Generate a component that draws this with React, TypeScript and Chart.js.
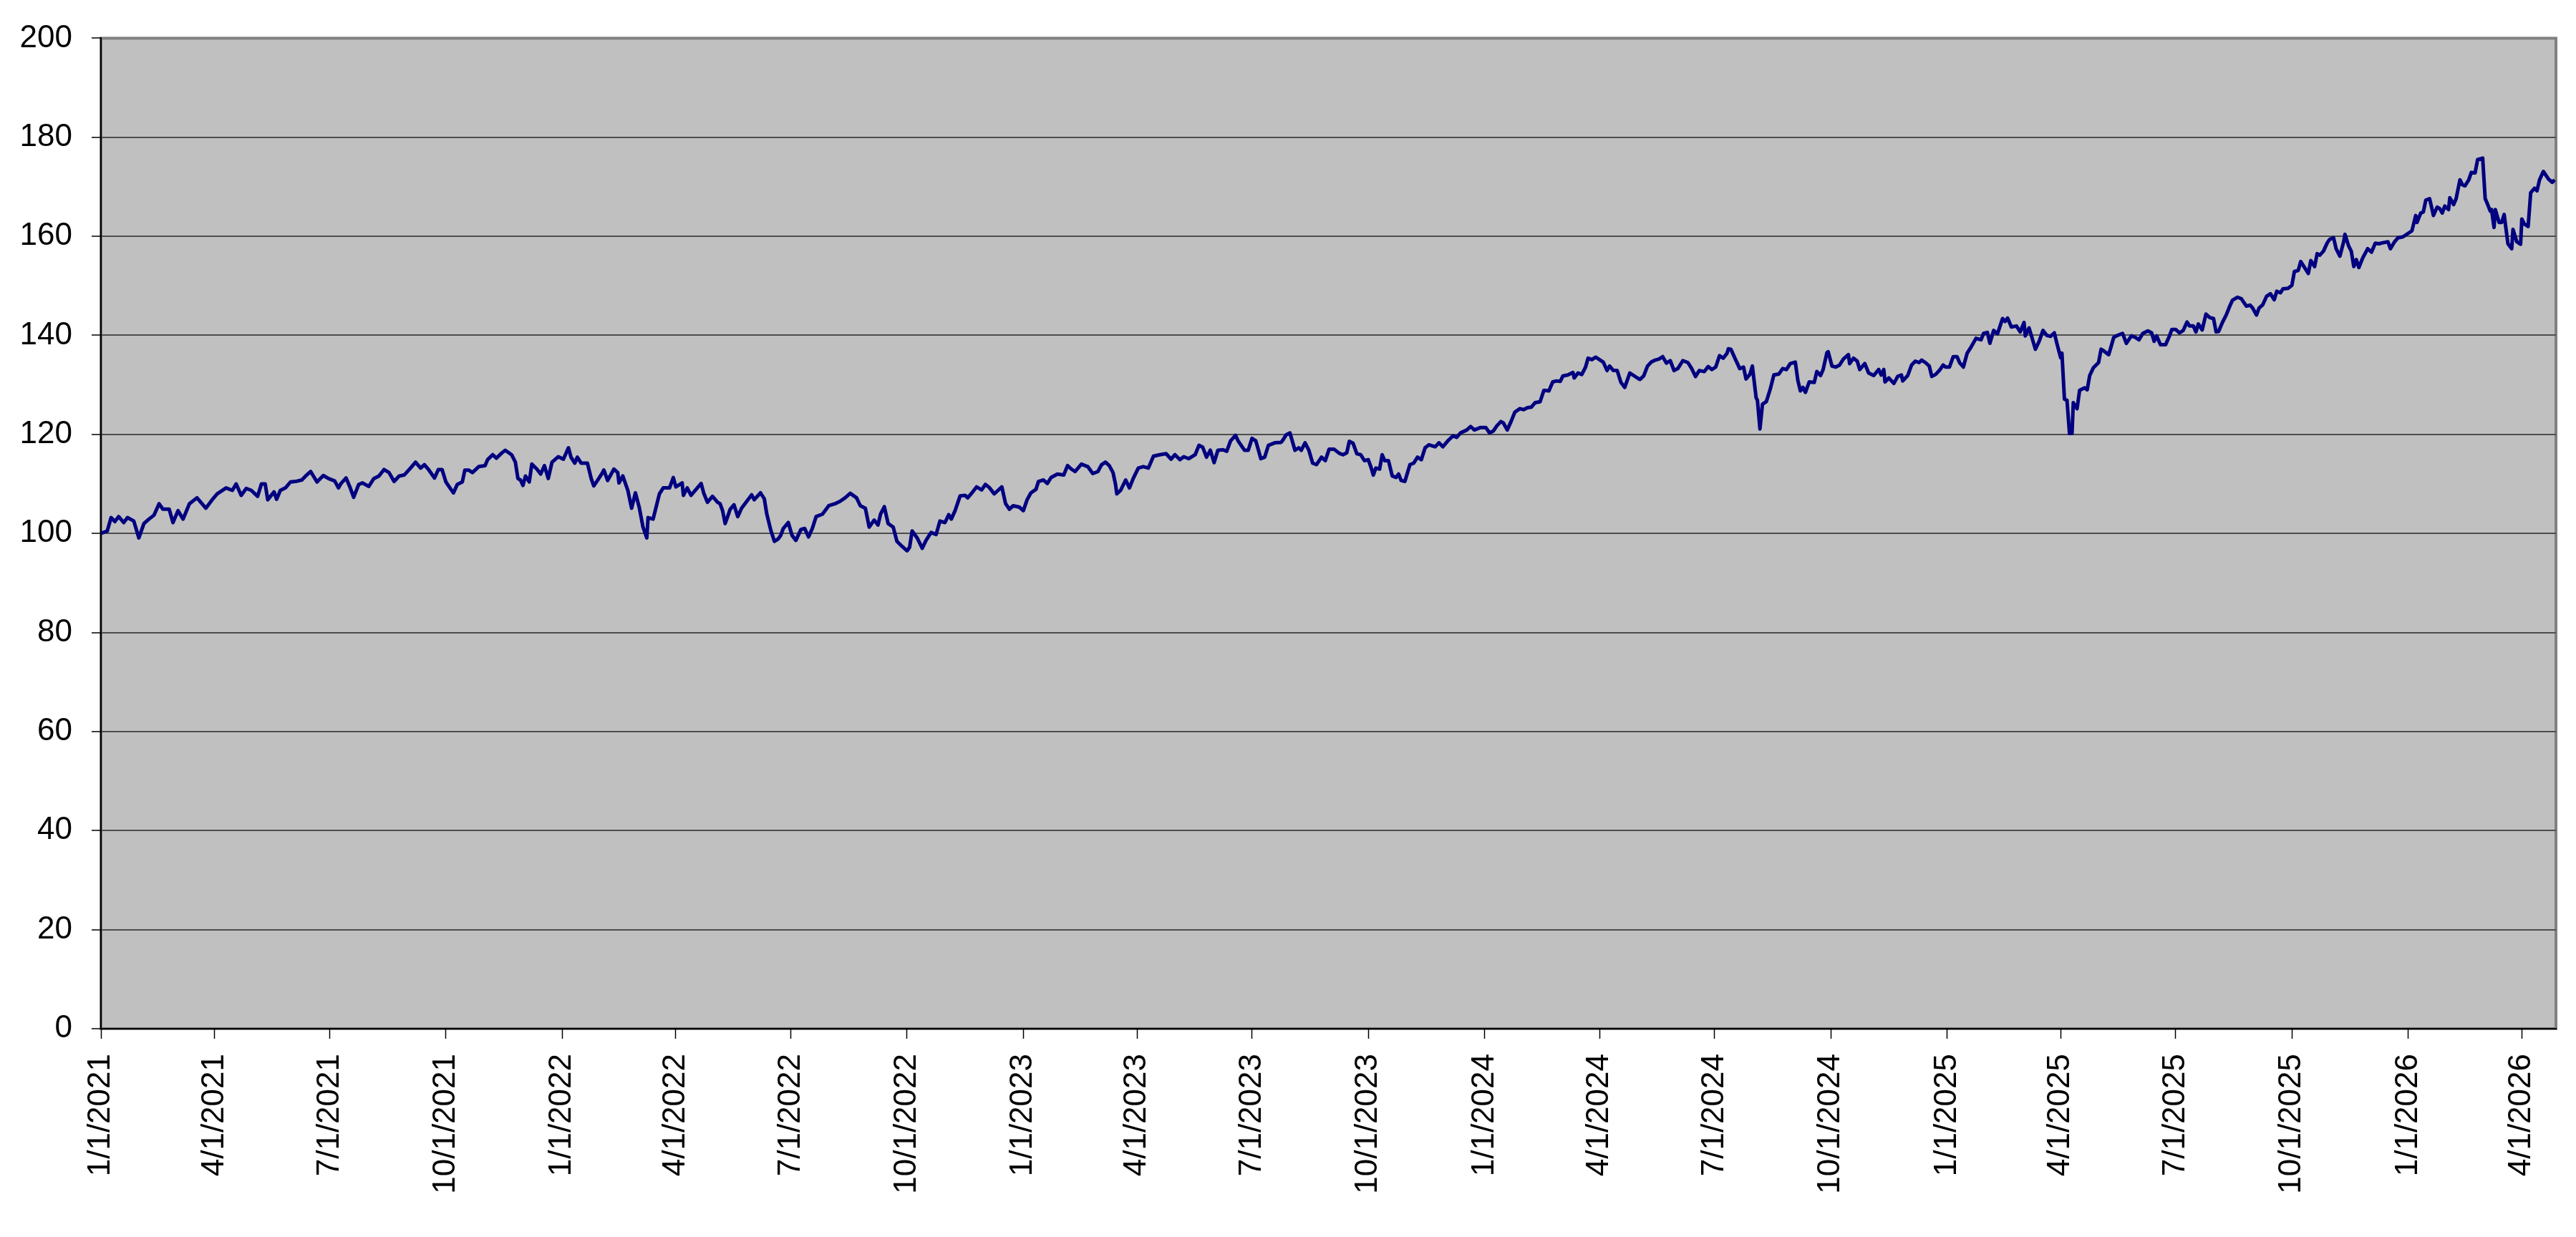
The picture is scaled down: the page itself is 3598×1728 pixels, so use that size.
import React, { useEffect, useRef } from 'react';
import { Chart, registerables } from 'chart.js';

Chart.register(...registerables);

// eixo x: dias desde a data inicial
const startDate = '1/1/2021';
const endDate = '4/28/2026';

const quarterLabels = [
  '1/1/2021', '4/1/2021', '7/1/2021', '10/1/2021',
  '1/1/2022', '4/1/2022', '7/1/2022', '10/1/2022',
  '1/1/2023', '4/1/2023', '7/1/2023', '10/1/2023',
  '1/1/2024', '4/1/2024', '7/1/2024', '10/1/2024',
  '1/1/2025', '4/1/2025', '7/1/2025', '10/1/2025',
  '1/1/2026', '4/1/2026',
];

// [dias desde 1/1/2021, índice]
const index2021: [number, number][] = [
  [0, 100.0], [5, 100.5], [8, 103.2], [11, 102.4], [14, 103.4], [18, 102.2], [21, 103.2], [26, 102.5],
  [30, 99.1], [34, 102.0], [38, 102.9], [42, 103.7], [46, 106.0], [49, 104.9], [54, 104.9], [57, 102.2],
  [61, 104.6], [65, 102.9], [70, 106.0], [76, 107.2], [83, 105.1], [88, 106.8], [92, 108.0], [99, 109.2],
  [104, 108.7], [107, 110.0], [111, 107.7], [115, 109.1], [119, 108.7], [124, 107.5], [127, 110.0], [130, 110.0],
  [132, 106.8], [137, 108.4], [139, 106.9], [142, 108.7], [146, 109.2], [150, 110.4], [154, 110.5], [159, 110.8],
  [162, 111.6], [166, 112.5], [171, 110.4], [176, 111.7], [180, 111.1], [185, 110.6], [188, 109.2], [190, 110.1],
  [194, 111.2], [197, 109.4], [200, 107.3], [204, 109.9], [207, 110.2], [212, 109.5], [216, 111.1], [220, 111.6],
  [224, 112.9], [228, 112.3], [232, 110.5], [236, 111.6], [240, 111.8], [245, 113.2], [249, 114.4], [253, 113.2],
  [256, 113.9], [259, 113.0], [264, 111.2], [267, 112.9], [270, 112.9], [273, 110.4], [277, 108.9], [279, 108.2],
  [282, 109.9], [286, 110.4], [288, 112.8], [291, 112.8], [294, 112.3], [299, 113.5], [304, 113.7], [306, 114.9],
  [310, 115.9], [313, 115.2], [317, 116.2], [320, 116.8], [325, 115.9], [328, 114.4], [330, 111.1], [332, 110.8],
  [334, 109.7], [336, 111.6], [339, 110.4], [341, 114.0], [345, 113.0], [348, 112.0], [351, 113.7], [354, 111.1],
  [357, 114.4], [362, 115.5],
];

const index2022: [number, number][] = [
  [366, 115.0], [370, 117.3], [372, 115.4], [375, 114.2], [377, 115.4], [380, 114.2], [385, 114.2], [388, 111.1],
  [390, 109.6], [393, 110.7], [397, 112.3], [398, 112.8], [401, 110.7], [406, 113.0], [409, 112.3], [410, 110.2],
  [413, 111.6], [417, 108.7], [420, 105.1], [423, 108.2], [426, 105.3], [429, 101.3], [432, 99.1], [433, 103.2],
  [437, 102.9], [442, 108.0], [445, 109.2], [450, 109.2], [453, 111.3], [455, 109.4], [460, 110.2], [461, 107.7],
  [464, 109.2], [467, 107.7], [471, 108.9], [475, 110.1], [477, 108.2], [480, 106.3], [484, 107.5], [488, 106.3],
  [490, 106.0], [492, 104.6], [494, 102.0], [496, 103.4], [498, 104.9], [501, 105.8], [504, 103.4], [507, 105.1],
  [512, 106.8], [515, 107.8], [517, 106.8], [522, 108.2], [525, 107.0], [527, 103.9], [530, 100.8], [533, 98.4],
  [536, 98.9], [538, 99.6], [540, 101.0], [544, 102.2], [547, 99.6], [550, 98.6], [554, 100.8], [557, 101.0],
  [560, 99.3], [563, 101.0], [566, 103.4], [571, 103.9], [576, 105.6], [581, 106.0], [585, 106.5], [589, 107.2],
  [593, 108.1], [598, 107.2], [601, 105.6], [605, 105.1], [608, 101.3], [612, 102.7], [615, 101.7], [617, 103.9],
  [620, 105.4], [623, 102.0], [627, 101.3], [630, 98.4], [634, 97.4], [638, 96.5], [640, 97.2], [642, 100.5],
  [646, 99.1], [650, 97.0], [653, 98.6], [657, 100.2], [661, 99.8], [664, 102.5], [668, 102.2], [671, 103.8],
  [673, 102.9], [676, 104.6], [680, 107.6], [684, 107.7], [686, 107.2], [690, 108.4], [693, 109.4], [697, 108.8],
  [700, 109.9], [703, 109.3], [707, 108.0], [710, 108.7], [713, 109.4], [716, 106.0], [719, 104.9], [722, 105.6],
  [727, 105.3],
];

const index2023: [number, number][] = [
  [730, 104.6], [733, 106.8], [736, 108.2], [740, 108.9], [742, 110.5], [746, 110.8], [749, 110.1], [752, 111.3],
  [757, 112.0], [762, 111.8], [765, 113.7], [768, 113.0], [771, 112.5], [776, 114.0], [781, 113.5], [785, 112.1],
  [789, 112.5], [792, 113.9], [795, 114.4], [798, 113.7], [801, 112.3], [803, 109.9], [804, 108.0], [807, 108.7],
  [811, 110.8], [814, 109.2], [817, 111.1], [821, 113.2], [825, 113.5], [829, 113.2], [833, 115.6], [838, 115.9],
  [843, 116.1], [847, 115.0], [850, 115.9], [854, 114.9], [857, 115.5], [861, 115.1], [866, 115.9], [869, 117.8],
  [872, 117.4], [875, 115.4], [878, 116.8], [881, 114.3], [884, 116.8], [888, 116.9], [891, 116.6], [894, 118.7],
  [898, 119.8], [900, 118.7], [905, 116.8], [908, 116.8], [911, 119.2], [914, 118.7], [918, 115.1], [921, 115.4],
  [924, 117.8], [929, 118.3], [934, 118.4], [935, 118.7], [938, 119.9], [941, 120.3], [945, 116.8], [948, 117.3],
  [950, 116.8], [953, 118.3], [956, 116.8], [959, 114.2], [962, 113.9], [966, 115.4], [969, 114.7], [972, 117.0],
  [976, 117.0], [980, 116.2], [983, 115.9], [986, 116.3], [988, 118.6], [991, 118.2], [994, 116.1], [997, 115.9],
  [1000, 114.7], [1003, 114.9], [1005, 113.5], [1007, 111.8], [1009, 113.2], [1012, 113.0], [1014, 115.9], [1016, 114.7],
  [1019, 114.7], [1022, 111.6], [1025, 111.3], [1027, 112.0], [1029, 110.7], [1032, 110.5], [1036, 113.9], [1039, 114.2],
  [1042, 115.4], [1045, 114.9], [1048, 117.3], [1051, 117.9], [1056, 117.5], [1059, 118.3], [1062, 117.5], [1066, 118.7],
  [1070, 119.7], [1073, 119.4], [1076, 120.3], [1081, 120.9], [1084, 121.6], [1087, 120.9], [1092, 121.4],
];

const index2024: [number, number][] = [
  [1096, 121.4], [1099, 120.3], [1102, 120.7], [1105, 121.8], [1108, 122.6], [1110, 122.3], [1113, 120.9], [1116, 122.6],
  [1119, 124.5], [1123, 125.2], [1126, 125.0], [1129, 125.4], [1132, 125.5], [1135, 126.4], [1139, 126.6], [1142, 128.9],
  [1146, 128.8], [1149, 130.6], [1152, 130.8], [1155, 130.7], [1157, 131.8], [1161, 132.0], [1165, 132.5], [1166, 131.4],
  [1169, 132.4], [1172, 132.1], [1175, 133.6], [1177, 135.4], [1180, 135.1], [1183, 135.6], [1186, 135.1], [1189, 134.6],
  [1192, 132.9], [1194, 133.8], [1197, 132.9], [1200, 132.9], [1203, 130.5], [1206, 129.5], [1210, 132.4], [1213, 131.9],
  [1216, 131.4], [1218, 131.1], [1221, 131.8], [1224, 133.8], [1227, 134.6], [1230, 135.0], [1233, 135.2], [1236, 135.7],
  [1239, 134.4], [1242, 134.9], [1245, 132.9], [1248, 133.3], [1252, 134.9], [1256, 134.5], [1259, 133.3], [1262, 131.7],
  [1265, 132.9], [1269, 132.7], [1272, 133.7], [1275, 133.1], [1278, 133.6], [1281, 135.9], [1284, 135.4], [1287, 136.4],
  [1288, 137.3], [1290, 137.2], [1293, 135.5], [1297, 133.3], [1300, 133.6], [1302, 131.2], [1305, 132.1], [1307, 133.8],
  [1310, 127.4], [1311, 126.9], [1313, 121.1], [1315, 126.1], [1318, 126.6], [1321, 129.0], [1324, 132.0], [1328, 132.2],
  [1331, 133.3], [1334, 133.1], [1337, 134.3], [1341, 134.6], [1343, 130.9], [1345, 128.8], [1347, 129.5], [1349, 128.5],
  [1352, 130.6], [1356, 130.5], [1358, 132.7], [1361, 131.9], [1363, 133.1], [1366, 136.5], [1367, 136.7], [1370, 133.8],
  [1373, 133.6], [1376, 134.0], [1379, 135.2], [1383, 136.1], [1384, 134.3], [1387, 135.4], [1390, 134.8], [1392, 133.1],
  [1396, 134.3], [1399, 132.4], [1403, 131.9], [1407, 133.1], [1409, 132.0], [1411, 133.1], [1412, 130.6], [1415, 131.4],
  [1419, 130.3], [1422, 131.7], [1425, 132.0], [1426, 130.8], [1430, 131.9], [1433, 134.0], [1436, 134.8], [1439, 134.5],
  [1441, 135.0], [1444, 134.5], [1447, 133.8], [1449, 131.7], [1452, 132.1], [1455, 132.9], [1458, 134.0], [1460, 133.6],
];

const index2025: [number, number][] = [
  [1463, 133.6], [1466, 135.7], [1469, 135.7], [1471, 134.5], [1474, 133.6], [1477, 136.4], [1480, 137.6], [1484, 139.4],
  [1488, 139.1], [1490, 140.4], [1493, 140.6], [1495, 138.4], [1498, 141.0], [1501, 140.3], [1505, 143.4], [1507, 142.8],
  [1509, 143.5], [1512, 141.7], [1516, 141.9], [1519, 140.7], [1522, 142.6], [1523, 139.9], [1526, 141.5], [1528, 139.8],
  [1531, 137.2], [1534, 138.8], [1537, 141.0], [1540, 140.0], [1543, 139.8], [1546, 140.5], [1548, 138.4], [1551, 135.5],
  [1552, 136.4], [1554, 127.1], [1556, 126.9], [1558, 120.2], [1560, 120.2], [1561, 126.4], [1564, 125.2], [1566, 128.9],
  [1570, 129.4], [1572, 129.0], [1574, 131.9], [1577, 133.5], [1581, 134.5], [1583, 137.2], [1585, 136.9], [1589, 136.1],
  [1591, 137.8], [1593, 139.6], [1596, 140.0], [1600, 140.4], [1603, 138.4], [1607, 139.9], [1610, 139.6], [1613, 139.1],
  [1616, 140.4], [1620, 140.9], [1623, 140.5], [1625, 138.8], [1627, 139.9], [1630, 138.1], [1634, 138.1], [1637, 139.8],
  [1639, 141.2], [1642, 141.2], [1645, 140.5], [1648, 141.0], [1651, 142.7], [1653, 141.9], [1656, 141.9], [1658, 140.7],
  [1660, 142.3], [1663, 141.1], [1666, 144.3], [1669, 143.6], [1672, 143.4], [1674, 140.7], [1676, 140.8], [1679, 142.6],
  [1682, 144.1], [1685, 146.0], [1687, 147.1], [1691, 147.7], [1694, 147.4], [1698, 145.9], [1701, 146.1], [1703, 145.5],
  [1706, 144.1], [1708, 145.5], [1711, 146.2], [1714, 147.9], [1717, 148.4], [1720, 147.2], [1722, 148.9], [1725, 148.6],
  [1727, 149.4], [1731, 149.5], [1734, 150.1], [1736, 152.9], [1739, 153.1], [1741, 154.9], [1744, 153.7], [1747, 152.5],
  [1749, 155.1], [1752, 153.9], [1754, 156.5], [1756, 156.2], [1759, 157.0], [1762, 158.7], [1764, 159.4], [1767, 159.7],
  [1769, 157.5], [1772, 156.0], [1775, 158.9], [1776, 160.4], [1779, 158.0], [1781, 157.0], [1783, 153.9], [1785, 155.3],
  [1787, 153.7], [1790, 155.6], [1794, 157.5], [1797, 156.8], [1800, 158.6], [1803, 158.5], [1806, 158.7], [1810, 158.9],
  [1812, 157.5], [1815, 158.8], [1818, 159.7], [1822, 159.9],
];

const index2026: [number, number][] = [
  [1826, 160.6], [1829, 161.1], [1832, 164.2], [1833, 162.8], [1836, 164.7], [1838, 164.9], [1840, 167.3], [1843, 167.6],
  [1845, 165.4], [1846, 164.2], [1849, 165.9], [1851, 165.6], [1853, 164.7], [1855, 166.1], [1858, 165.4], [1859, 167.8],
  [1862, 166.4], [1864, 167.6], [1867, 171.4], [1869, 170.4], [1871, 170.2], [1874, 171.4], [1876, 172.9], [1879, 172.8],
  [1881, 175.5], [1885, 175.8], [1887, 167.6], [1889, 166.4], [1891, 165.1], [1892, 165.4], [1894, 161.8], [1895, 165.4],
  [1898, 162.8], [1900, 162.8], [1902, 164.4], [1905, 158.5], [1908, 157.5], [1909, 161.4], [1912, 158.9], [1915, 158.4],
  [1916, 163.5], [1918, 162.5], [1921, 162.0], [1923, 168.8], [1926, 169.7], [1928, 169.2], [1930, 171.4], [1933, 173.1],
  [1937, 171.6], [1940, 170.9], [1942, 171.4],
];

const Y_MIN = 0;
const Y_MAX = 200;
const Y_STEP = 20;

// converte "M/D/AAAA" em dias desde startDate
const toDays = (label: string) => {
  const [m, d, y] = label.split('/').map(Number);
  const [m0, d0, y0] = startDate.split('/').map(Number);
  return Math.round((Date.UTC(y, m - 1, d) - Date.UTC(y0, m0 - 1, d0)) / 86400000);
};

const quarterDays = quarterLabels.map(toDays);

const series = [...index2021, ...index2022, ...index2023, ...index2024, ...index2025, ...index2026]
  .map(([x, y]) => ({ x, y }));

// fundo cinza da área de plotagem com borda estilo Excel
const plotArea = {
  id: 'plotArea',
  beforeDraw(chart: Chart) {
    const { ctx, chartArea: a } = chart;
    ctx.save();
    ctx.fillStyle = '#C0C0C0';
    ctx.fillRect(a.left, a.top, a.right - a.left, a.bottom - a.top);
    ctx.strokeStyle = '#808080';
    ctx.lineWidth = 4;
    ctx.strokeRect(a.left, a.top, a.right - a.left, a.bottom - a.top);
    ctx.restore();
  },
};

const App: React.FC = () => {
  const canvasRef = useRef<HTMLCanvasElement>(null);

  useEffect(() => {
    document.body.style.margin = '0';
    if (!canvasRef.current) return;

    const chart = new Chart(canvasRef.current, {
      type: 'line',
      data: {
        datasets: [
          {
            data: series,
            borderColor: '#000080',
            borderWidth: 5,
            pointRadius: 0,
            tension: 0,
            borderJoinStyle: 'round',
          },
        ],
      },
      options: {
        animation: false,
        responsive: false,
        devicePixelRatio: 1,
        parsing: false,
        normalized: true,
        layout: { padding: { top: 44, right: 28, left: 0, bottom: 0 } },
        plugins: {
          legend: { display: false },
          tooltip: { enabled: false },
        },
        font: { family: '"Liberation Sans", Arial, sans-serif' },
        scales: {
          x: {
            type: 'linear',
            min: 0,
            max: toDays(endDate),
            afterBuildTicks: (scale: any) => {
              scale.ticks = quarterDays.map((v) => ({ value: v }));
            },
            afterFit: (scale: any) => {
              scale.height = 291;
            },
            ticks: {
              autoSkip: false,
              minRotation: 90,
              maxRotation: 90,
              padding: 21,
              color: '#000',
              font: { family: '"Liberation Sans", Arial, sans-serif', size: 44 },
              callback: (_v: any, i: number) => quarterLabels[i],
            },
            grid: {
              drawOnChartArea: false,
              drawTicks: true,
              tickLength: 14,
              tickColor: '#000',
              tickWidth: 1.5,
            },
            border: { display: true, color: '#000', width: 2 },
          },
          y: {
            min: Y_MIN,
            max: Y_MAX,
            afterFit: (scale: any) => {
              scale.width = 141;
            },
            ticks: {
              stepSize: Y_STEP,
              padding: 27,
              color: '#000',
              font: { family: '"Liberation Sans", Arial, sans-serif', size: 44 },
            },
            grid: {
              color: (ctx: any) =>
                ctx.tick && (ctx.tick.value === Y_MIN || ctx.tick.value === Y_MAX)
                  ? 'rgba(0,0,0,0)'
                  : '#4d4d4d',
              lineWidth: 2,
              drawTicks: true,
              tickLength: 13,
              tickColor: '#000',
              tickWidth: 1.5,
            },
            border: { display: true, color: '#000', width: 2 },
          },
        },
      },
      plugins: [plotArea],
    } as any);

    return () => chart.destroy();
  }, []);

  return <canvas ref={canvasRef} width={3598} height={1728} style={{ display: 'block' }} />;
};

export default App;
